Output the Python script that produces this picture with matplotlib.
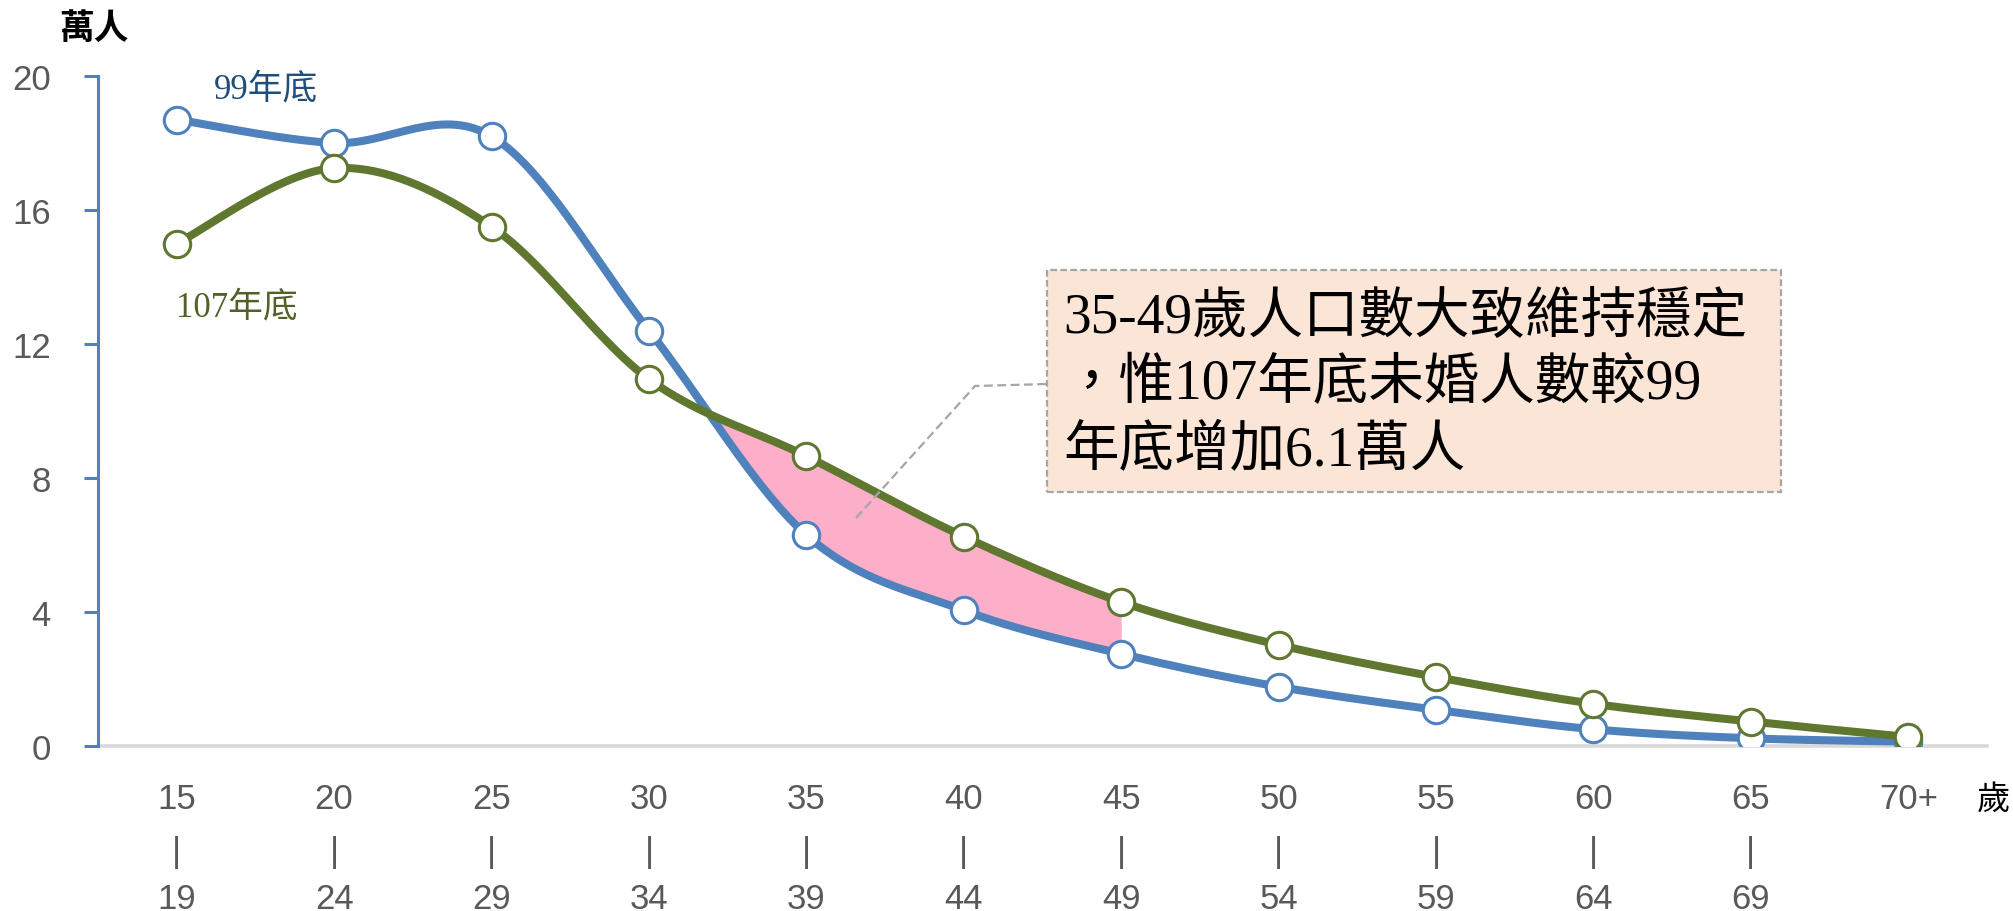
import numpy as np
import matplotlib
matplotlib.use("Agg")
import matplotlib.pyplot as plt
from matplotlib.patches import Rectangle
from matplotlib.lines import Line2D

# ---- data ----
age_start = ["15", "20", "25", "30", "35", "40", "45", "50", "55", "60", "65", "70+"]
age_end = ["19", "24", "29", "34", "39", "44", "49", "54", "59", "64", "69", ""]
y99 = [18.7, 18.0, 18.2, 12.4, 6.3, 4.05, 2.75, 1.77, 1.08, 0.50, 0.23, 0.13]
y107 = [15.0, 17.25, 15.5, 10.95, 8.65, 6.25, 4.3, 3.02, 2.06, 1.26, 0.73, 0.27]
yticks = [0, 4, 8, 12, 16, 20]
label99 = "99年底"
label107 = "107年底"
note_lines = ["35-49歲人口數大致維持穩定", "，惟107年底未婚人數較99", "年底增加6.1萬人"]

BLUE = "#4f81bd"
GREEN = "#5f772f"
PINK = "#fdaec9"
SERIF_CJK = ["Liberation Serif", "Noto Sans CJK TC", "DejaVu Sans"]
NUM = ["Liberation Sans Narrow", "Liberation Sans", "DejaVu Sans"]


def smooth(xs, ys, n=60):
    """Catmull-Rom style Bezier smoothing (like Excel's smoothed line)."""
    P = np.column_stack([xs, ys]).astype(float)
    out = []
    m = len(P)
    t = np.linspace(0, 1, n)
    for i in range(m - 1):
        p0 = P[i - 1] if i > 0 else P[i]
        p1 = P[i]
        p2 = P[i + 1]
        p3 = P[i + 2] if i + 2 < m else P[i + 1]
        c1 = p1 + (p2 - p0) / 6.0
        c2 = p2 - (p3 - p1) / 6.0
        seg = ((1 - t)[:, None] ** 3) * p1 + 3 * ((1 - t)[:, None] ** 2) * t[:, None] * c1 \
            + 3 * (1 - t)[:, None] * (t[:, None] ** 2) * c2 + (t[:, None] ** 3) * p2
        out.append(seg if i == 0 else seg[1:])
    s = np.vstack(out)
    return s[:, 0], s[:, 1]


x = np.arange(len(age_start))
fig = plt.figure(figsize=(20.13, 9.12), dpi=100)
ax = fig.add_axes([98 / 2013, 1 - 747 / 912, (1987 - 98) / 2013, 670 / 912])

sx99, sy99 = smooth(x, y99)
sx107, sy107 = smooth(x, y107)

# pink fill between curves from crossing (between 30 and 35 groups) to 45 group
grid = np.linspace(3, 6, 600)
g99 = np.interp(grid, sx99, sy99)
g107 = np.interp(grid, sx107, sy107)
diff = g107 - g99
cross_idx = np.where(np.diff(np.sign(diff)) != 0)[0]
start = grid[cross_idx[0] + 1] if len(cross_idx) else 3
mask = grid >= start
ax.fill_between(grid[mask], g99[mask], g107[mask], color=PINK, lw=0, zorder=1)

ax.plot(sx99, sy99, color=BLUE, lw=5.8, solid_capstyle="round", zorder=2)
ax.plot(x, y99, ls="none", marker="o", ms=19, mfc="white", mec=BLUE, mew=2.2, zorder=3)
ax.plot(sx107, sy107, color=GREEN, lw=5.8, solid_capstyle="round", zorder=4)
ax.plot(x, y107, ls="none", marker="o", ms=19, mfc="white", mec=GREEN, mew=2.2, zorder=5)

ax.set_xlim(-0.5, len(x) - 0.5)
ax.set_ylim(0, 20)
ax.set_yticks(yticks)
ax.set_yticklabels([str(v) for v in yticks], family=NUM, fontsize=25, color="#595959")
ax.tick_params(axis="y", direction="out", length=10, width=2.2, color=BLUE, pad=24)
ax.set_xticks([])
for s in ["top", "right"]:
    ax.spines[s].set_visible(False)
ax.spines["left"].set_color(BLUE)
ax.spines["left"].set_linewidth(2.2)
ax.spines["bottom"].set_color("#d9d9d9")
ax.spines["bottom"].set_linewidth(2.6)
ax.spines["bottom"].set_zorder(0.5)

trans = ax.get_xaxis_transform()
for xi, a, b in zip(x, age_start, age_end):
    ax.text(xi, -0.079, a, transform=trans, ha="center", va="center",
            family=NUM, fontsize=25, color="#595959")
    if b:
        ax.text(xi, -0.157, "|", transform=trans, ha="center", va="center",
                family=NUM, fontsize=25, color="#595959")
        ax.text(xi, -0.227, b, transform=trans, ha="center", va="center",
                family=NUM, fontsize=25, color="#595959")

# axis titles
fig.text(94 / 2013, 1 - 30 / 912, "萬人", ha="center", va="center",
         family=SERIF_CJK, fontsize=25, fontweight="bold", color="black")
fig.text(2010 / 2013, 1 - 800 / 912, "歲", ha="right", va="center",
         family=SERIF_CJK, fontsize=24, color="black")

# series labels
ax.text(0.57, 19.6, label99, ha="center", va="center", family=SERIF_CJK,
        fontsize=25, color="#1f4e79")
ax.text(0.38, 13.1, label107, ha="center", va="center", family=SERIF_CJK,
        fontsize=25, color="#4f6228")

# annotation box
bx0, bx1, by0, by1 = 1047, 1781, 271, 493
fig.patches.append(Rectangle((bx0 / 2013, 1 - by1 / 912), (bx1 - bx0) / 2013, (by1 - by0) / 912,
                             transform=fig.transFigure, facecolor="#fbe5d6",
                             edgecolor="#a6a6a6", lw=1.6, ls=(0, (3, 1.5)), zorder=6))
for ly, line in zip([319, 385, 452], note_lines):
    fig.text(1063 / 2013, 1 - ly / 912, line, ha="left", va="center",
             family=SERIF_CJK, fontsize=40, color="black", zorder=7)

leader = Line2D([856 / 2013, 975 / 2013, 1047 / 2013],
                [1 - 519 / 912, 1 - 387 / 912, 1 - 385 / 912],
                transform=fig.transFigure, color="#a6a6a6", lw=1.6, ls=(0, (4, 2)), zorder=6)
fig.lines.append(leader)

fig.savefig("out.png", dpi=100)
